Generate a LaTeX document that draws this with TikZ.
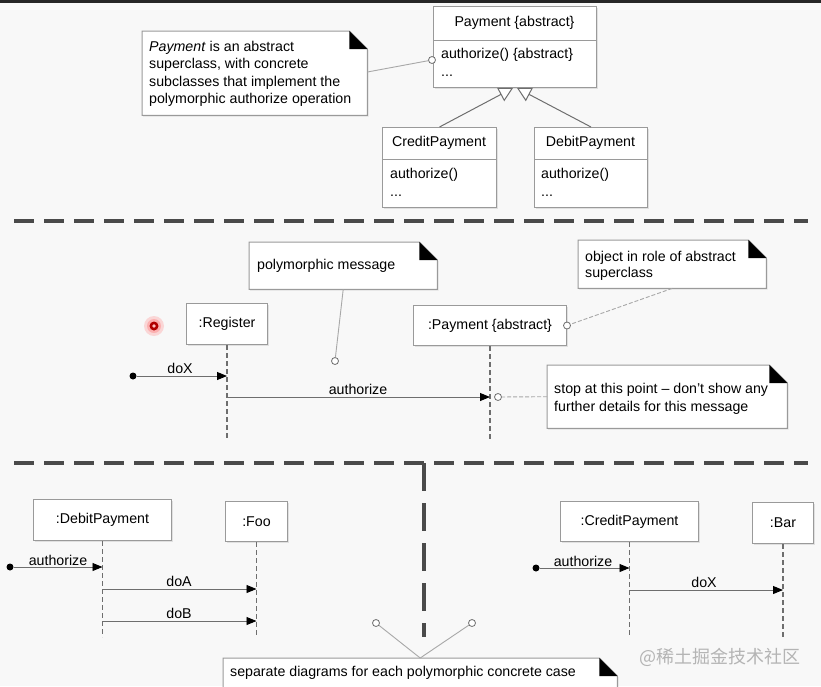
\documentclass[tikz,border=0pt]{standalone}
\usepackage{fontspec}
\setmainfont{Liberation Sans}
\newfontfamily\cjkfont{Noto Sans CJK SC}
\usetikzlibrary{arrows.meta,calc,shadows}
\definecolor{bg}{HTML}{F8F8F8}
\definecolor{boxline}{HTML}{9A9A9A}
\definecolor{conn}{HTML}{6E6E6E}
\definecolor{noteline}{HTML}{A8A8A8}
\definecolor{sepcol}{HTML}{4A4A4A}
\definecolor{wmark}{HTML}{B4B4B4}
\tikzset{
  umlbox/.style={draw=boxline, line width=1pt, fill=white, inner sep=0pt, anchor=north west,
    font=\fontsize{14.2}{17}\selectfont,
    drop shadow={shadow xshift=1.2pt, shadow yshift=-1.2pt, opacity=0.2}},
  notebox/.style={inner sep=0pt, anchor=north west},
  noteframe/.style={draw=boxline, line width=1pt, fill=white,
    drop shadow={shadow xshift=1.2pt, shadow yshift=-1.2pt, opacity=0.2}},
  txt/.style={inner sep=0pt, font=\fontsize{14.2}{17.5}\selectfont, align=left},
  msg/.style={draw=conn, line width=0.9pt, -{Triangle[length=10pt,width=8pt,color=black]}},
  life/.style={draw=conn, line width=1.2pt, dash pattern=on 5pt off 3pt},
  sepline/.style={draw=sepcol, line width=3.5pt, dash pattern=on 20pt off 10pt},
  vsepline/.style={draw=sepcol, line width=3.5pt, dash pattern=on 28pt off 12pt},
  notelink/.style={draw=noteline, line width=0.9pt},
  dashlink/.style={draw=noteline, line width=0.9pt, dash pattern=on 4pt off 2pt},
  pin/.style={circle, draw=conn, fill=white, line width=0.8pt, minimum size=7pt, inner sep=0pt},
  startdot/.style={circle, fill=black, minimum size=7pt, inner sep=0pt},
  gen/.style={draw=conn, line width=1pt, -{Triangle[open, length=14pt, width=15pt, fill=white]}},
}
\newcommand\drawumlnote[1]{%
  \draw[noteframe] (#1.north west) -- ([xshift=-18pt]#1.north east) -- ([yshift=-18pt]#1.north east)
     -- (#1.south east) -- (#1.south west) -- cycle;
  \fill[black] ([xshift=-18pt]#1.north east) -- ([xshift=-18pt,yshift=-18pt]#1.north east)
     -- ([yshift=-18pt]#1.north east) -- cycle;}
\begin{document}
\begin{tikzpicture}[x=1pt,y=-1pt]
\clip (0,0) rectangle (821,686);
\fill[bg] (0,0) rectangle (821,686);
\fill[black!85] (0,0) rectangle (821,3);

% ---------------- top: class diagram ----------------
\node[umlbox, minimum width=163pt, minimum height=81pt] (pay) at (433,6) {};
\draw[boxline, line width=1pt] (pay.west |- 0,40) -- (pay.east |- 0,40);
\node[txt] (payt) at (514.5,23) {Payment \{abstract\}};
\node[txt, anchor=west] (payop) at (441,55) {authorize() \{abstract\}};
\node[txt, anchor=west] (paydots) at (441,76) {...};

\node[umlbox, minimum width=114pt, minimum height=80pt] (cp) at (382,127) {};
\draw[boxline, line width=1pt] (cp.west |- 0,159) -- (cp.east |- 0,159);
\node[txt] (cpt) at (439,143) {CreditPayment};
\node[txt, anchor=west] (cpop) at (390,175) {authorize()};
\node[txt, anchor=west] (cpdots) at (390,196) {...};

\node[umlbox, minimum width=113pt, minimum height=80pt] (dp) at (534,127) {};
\draw[boxline, line width=1pt] (dp.west |- 0,159) -- (dp.east |- 0,159);
\node[txt] (dpt) at (590.5,143) {DebitPayment};
\node[txt, anchor=west] (dpop) at (541,175) {authorize()};
\node[txt, anchor=west] (dpdots) at (541,196) {...};

\draw[gen] (cp.north) -- ([xshift=-2pt]pay.south);
\draw[gen] (dp.north) -- ([xshift=2pt]pay.south);

\node[notebox, minimum width=225pt, minimum height=84pt] (n1) at (142,31) {};
\drawumlnote{n1}
\node[txt, anchor=north west] (n1t) at (149,41) {\textit{Payment} is an abstract\\superclass, with concrete\\subclasses that implement the\\polymorphic authorize operation};
\node[pin] (c0) at (432,60) {};
\draw[notelink] (n1.east |- 0,72) -- (c0);

% ---------------- separator 1 ----------------
\coordinate (s1a) at (14,221);
\coordinate (s1b) at (808,221);
\draw[sepline] (s1a) -- (s1b);

% ---------------- middle: sequence diagram ----------------
\node[notebox, minimum width=188pt, minimum height=47pt] (n2) at (249,242) {};
\drawumlnote{n2}
\node[txt, anchor=north west] (n2t) at (257,259) {polymorphic message};

\node[notebox, minimum width=188pt, minimum height=48pt] (n3) at (578,240) {};
\drawumlnote{n3}
\node[txt, anchor=north west, font=\fontsize{14.2}{16.5}\selectfont] (n3t) at (585,251) {object in role of abstract\\superclass};

\node[umlbox, minimum width=81pt, minimum height=41pt] (reg) at (186,303) {:Register};
\node[umlbox, minimum width=153pt, minimum height=40pt] (payo) at (413,305) {:Payment \{abstract\}};

\coordinate (regend) at (reg.south |- 0,440);
\coordinate (payend) at (payo.south |- 0,440);
\draw[life] (reg.south) -- (regend);
\draw[life] (payo.south) -- (payend);

\node[startdot] (d1) at (133,376) {};
\coordinate (r1) at (reg.south |- 0,376);
\draw[msg] (d1) -- (r1);
\node[txt] (l1) at (180,368) {doX};

\coordinate (r2) at (reg.south |- 0,397);
\coordinate (p2) at (payo.south |- 0,397);
\draw[msg] (r2) -- (p2);
\node[txt] (l2) at (358,389) {authorize};

\node[pin] (c1) at (335,361) {};
\draw[notelink] (n2.south) -- (c1);

\node[pin] (c3) at (payo.east) {};
\draw[dashlink] (n3.south) -- (c3);

\node[notebox, minimum width=240pt, minimum height=63pt] (n4) at (547,365) {};
\drawumlnote{n4}
\node[txt, anchor=north west, font=\fontsize{14.2}{18}\selectfont] (n4t) at (554,383) {stop at this point -- don't show any\\further details for this message};
\node[pin] (c2) at (498,397) {};
\draw[dashlink] (n4.west) -- (c2);

% cursor marker
\fill[red!40, opacity=0.35] (154,326) circle (10);
\fill[red!45, opacity=0.5] (154,326) circle (7);
\fill[red!70!black] (154,326) circle (4.5);
\fill[red!25] (154,326) circle (1.8);

% ---------------- separator 2 ----------------
\coordinate (s2a) at (14,463);
\coordinate (s2b) at (808,463);
\coordinate (s2c) at (424,463);
\coordinate (s2d) at (424,637);
\draw[sepline] (s2a) -- (s2b);
\draw[vsepline] (s2c) -- (s2d);

% ---------------- bottom left ----------------
\node[umlbox, minimum width=138pt, minimum height=41pt] (db) at (33,499) {:DebitPayment};
\node[umlbox, minimum width=62pt, minimum height=40pt] (foo) at (225,501) {:Foo};
\coordinate (dbend) at (db.south |- 0,637);
\coordinate (fooend) at (foo.south |- 0,637);
\draw[life] (db.south) -- (dbend);
\draw[life] (foo.south) -- (fooend);

\node[startdot] (d2) at (10,567) {};
\coordinate (b1) at (db.south |- 0,567);
\draw[msg] (d2) -- (b1);
\node[txt] (l3) at (58,560) {authorize};

\coordinate (b2) at (db.south |- 0,589);
\coordinate (f2) at (foo.south |- 0,589);
\draw[msg] (b2) -- (f2);
\node[txt] (l4) at (179,581) {doA};

\coordinate (b3) at (db.south |- 0,621);
\coordinate (f3) at (foo.south |- 0,621);
\draw[msg] (b3) -- (f3);
\node[txt] (l5) at (179,613) {doB};

% ---------------- bottom right ----------------
\node[umlbox, minimum width=138pt, minimum height=40pt] (cpo) at (560,501) {:CreditPayment};
\node[umlbox, minimum width=61pt, minimum height=41pt] (bar) at (752,502) {:Bar};
\coordinate (cpoend) at (cpo.south |- 0,637);
\coordinate (barend) at (bar.south |- 0,637);
\draw[life] (cpo.south) -- (cpoend);
\draw[life] (bar.south) -- (barend);

\node[startdot] (d3) at (536,568) {};
\coordinate (k1) at (cpo.south |- 0,568);
\draw[msg] (d3) -- (k1);
\node[txt] (l6) at (583,561) {authorize};

\coordinate (k2) at (cpo.south |- 0,590);
\coordinate (q2) at (bar.south |- 0,590);
\draw[msg] (k2) -- (q2);
\node[txt] (l7) at (704,582) {doX};

% ---------------- bottom note ----------------
\node[notebox, minimum width=394pt, minimum height=50pt] (n5) at (223,658) {};
\drawumlnote{n5}
\node[txt, anchor=north west] (n5t) at (230,666) {separate diagrams for each polymorphic concrete case};
\node[pin] (c4) at (376,623) {};
\node[pin] (c5) at (472,623) {};
\draw[notelink] (n5.north) -- (c4);
\draw[notelink] (n5.north) -- (c5);

% watermark
\node[inner sep=0pt, text=wmark, font=\cjkfont\fontsize{18}{18}\selectfont] (wm) at (720,657) {@稀土掘金技术社区};
\end{tikzpicture}
\end{document}
